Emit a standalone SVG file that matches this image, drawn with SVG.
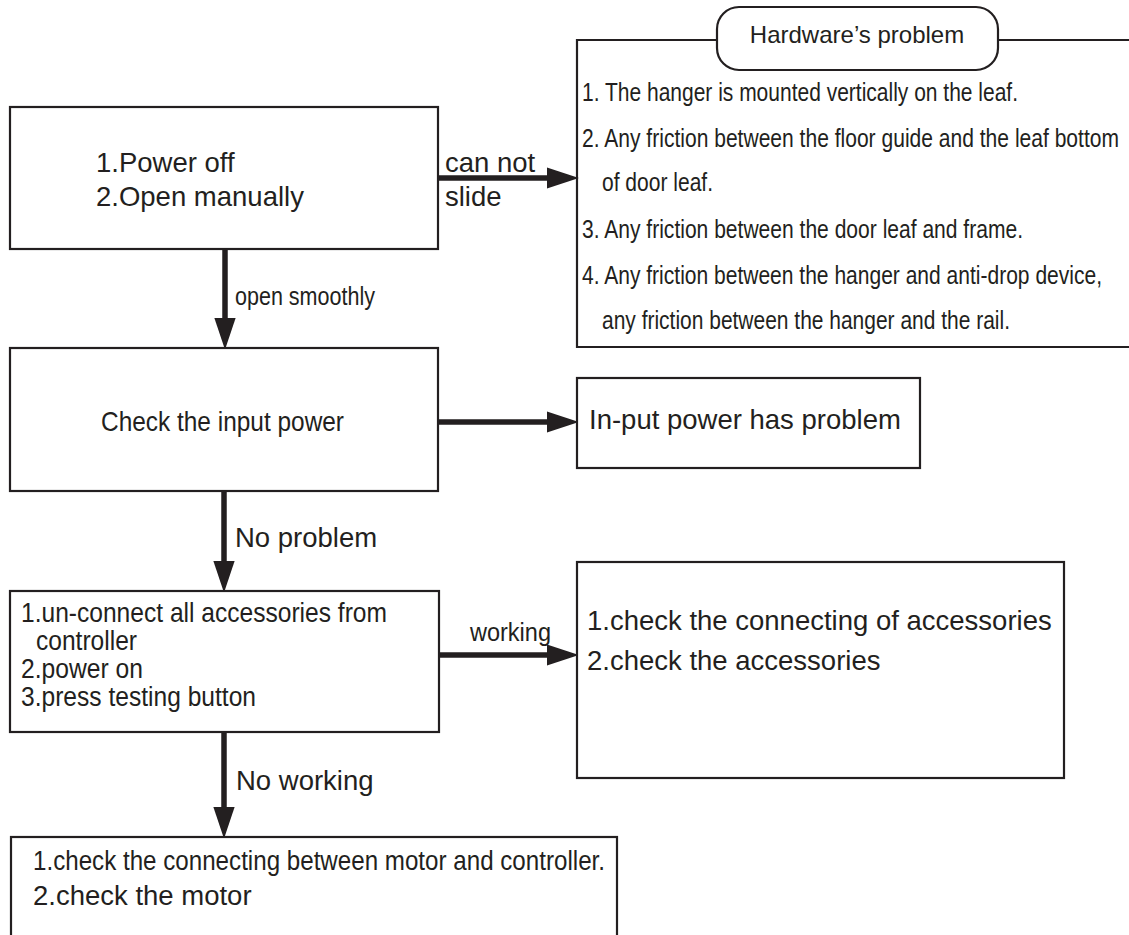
<svg xmlns="http://www.w3.org/2000/svg" width="1129" height="935" viewBox="0 0 1129 935">
<style>
.box{fill:#fff;stroke:#231f20;stroke-width:2.2}
.ln{fill:none;stroke:#231f20;stroke-width:2.2}
.con{fill:none;stroke:#231f20;stroke-width:5.5;marker-end:url(#ah)}
text{font-family:"Liberation Sans",Arial,sans-serif;fill:#231f20}
.r{font-size:27.5px}
.n{font-size:25px}
.p{font-size:24px}
</style>
<defs>
<marker id="ah" markerUnits="userSpaceOnUse" markerWidth="32" markerHeight="22" viewBox="0 0 30 20" refX="2" refY="10" orient="auto">
<path d="M0,0 L30,10 L0,20 Z" fill="#231f20"/>
</marker>
</defs>
<rect width="1129" height="935" fill="#fff"/>

<g id="connectors">
<line class="con" x1="438" y1="178" x2="549" y2="178"/>
<line class="con" x1="225" y1="249" x2="225" y2="320"/>
<line class="con" x1="438" y1="422" x2="549" y2="422"/>
<line class="con" x1="224" y1="491" x2="224" y2="563"/>
<line class="con" x1="439" y1="655" x2="549" y2="655"/>
<line class="con" x1="224" y1="732" x2="224" y2="809"/>
<text class="r" x="445" y="172">can not</text>
<text class="r" x="445" y="206">slide</text>
<text class="n" x="235" y="305" textLength="140" lengthAdjust="spacingAndGlyphs">open smoothly</text>
<text class="r" x="235" y="547">No problem</text>
<text class="n" x="470" y="641" textLength="81" lengthAdjust="spacingAndGlyphs">working</text>
<text class="r" x="236" y="790">No working</text>
</g>

<g id="hardware">
<path class="ln" d="M717,40 H577 V347 H1129 M998,40 H1129"/>
<rect class="box" x="717" y="7" width="281" height="63" rx="22"/>
<text class="p" x="857" y="43" text-anchor="middle">Hardware’s problem</text>
<text class="n" x="582" y="101" textLength="436" lengthAdjust="spacingAndGlyphs">1. The hanger is mounted vertically on the leaf.</text>
<text class="n" x="582" y="147" textLength="537" lengthAdjust="spacingAndGlyphs">2. Any friction between the floor guide and the leaf bottom</text>
<text class="n" x="602" y="191" textLength="111" lengthAdjust="spacingAndGlyphs">of door leaf.</text>
<text class="n" x="582" y="238" textLength="441" lengthAdjust="spacingAndGlyphs">3. Any friction between the door leaf and frame.</text>
<text class="n" x="582" y="284" textLength="520" lengthAdjust="spacingAndGlyphs">4. Any friction between the hanger and anti-drop device,</text>
<text class="n" x="602" y="329" textLength="408" lengthAdjust="spacingAndGlyphs">any friction between the hanger and the rail.</text>
</g>

<g id="box1">
<rect class="box" x="10" y="107" width="428" height="142"/>
<text class="r" x="96" y="172">1.Power off</text>
<text class="r" x="96" y="206">2.Open manually</text>
</g>

<g id="box2">
<rect class="box" x="10" y="348" width="428" height="143"/>
<text class="r" x="101" y="431" textLength="243" lengthAdjust="spacingAndGlyphs">Check the input power</text>
</g>

<g id="inputbox">
<rect class="box" x="577" y="378" width="343" height="90"/>
<text class="r" x="589" y="429">In-put power has problem</text>
</g>

<g id="box3">
<rect class="box" x="10" y="591" width="429" height="141"/>
<text class="r" x="21" y="622" textLength="366" lengthAdjust="spacingAndGlyphs">1.un-connect all accessories from</text>
<text class="r" x="36" y="650" textLength="101" lengthAdjust="spacingAndGlyphs">controller</text>
<text class="r" x="21" y="678" textLength="122" lengthAdjust="spacingAndGlyphs">2.power on</text>
<text class="r" x="21" y="706" textLength="235" lengthAdjust="spacingAndGlyphs">3.press testing button</text>
</g>

<g id="box4">
<rect class="box" x="577" y="562" width="487" height="216"/>
<text class="r" x="587" y="630">1.check the connecting of accessories</text>
<text class="r" x="587" y="670">2.check the accessories</text>
</g>

<g id="box5">
<rect class="box" x="11" y="837" width="606" height="110"/>
<text class="r" x="33" y="870" textLength="572" lengthAdjust="spacingAndGlyphs">1.check the connecting between motor and controller.</text>
<text class="r" x="33" y="905">2.check the motor</text>
</g>
</svg>
